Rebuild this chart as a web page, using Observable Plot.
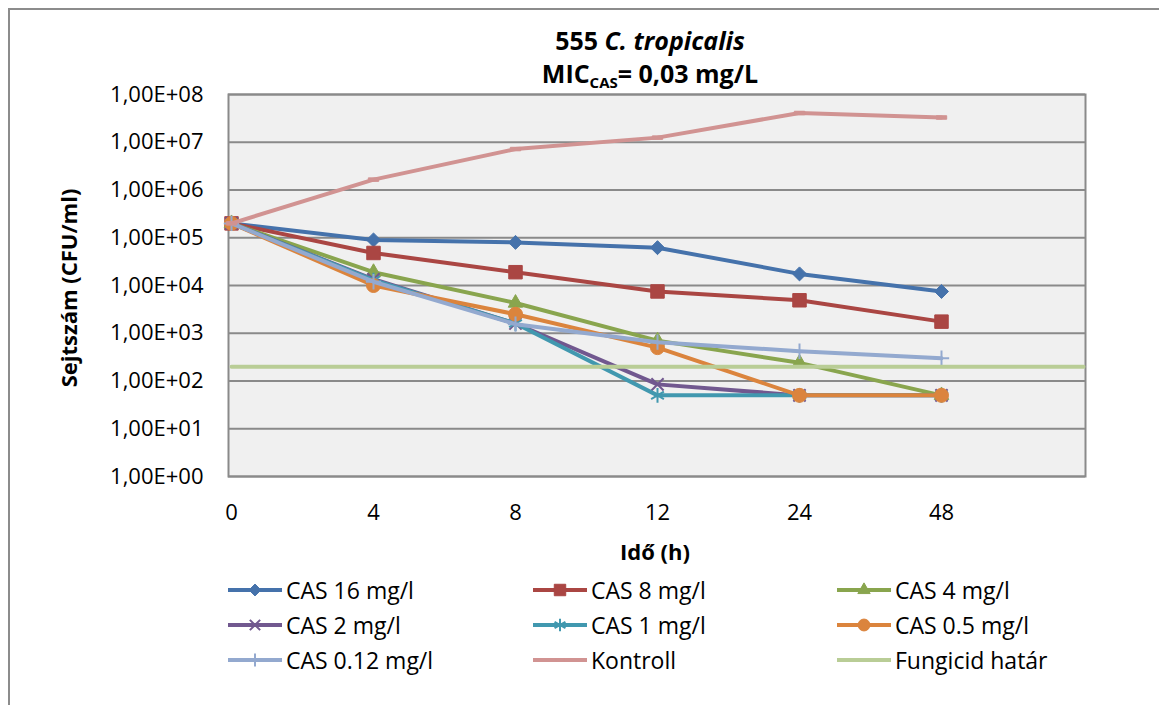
<!DOCTYPE html>
<html><head><meta charset="utf-8">
<script src="https://cdn.jsdelivr.net/npm/d3@7"></script>
<script src="https://cdn.jsdelivr.net/npm/@observablehq/plot@0.6"></script>
<style>
body{margin:0;background:#fff;font-family:"Open Sans",sans-serif;color:#000;}
#wrap{position:relative;width:1159px;height:705px;overflow:hidden;background:#fff;}
#border{position:absolute;left:8px;top:8px;width:1300px;height:900px;border:2px solid #8c8c8c;box-sizing:border-box;}
#chart{position:absolute;left:0;top:0;}
.title{position:absolute;left:0;width:1300px;text-align:center;font-weight:bold;font-size:25px;line-height:1;white-space:nowrap;}
.title sub{font-size:15px;vertical-align:-5px;line-height:0;}
#ytitle{position:absolute;left:68px;top:288px;transform:translate(-50%,-50%) rotate(-90deg);font-weight:bold;font-size:22px;white-space:nowrap;}
#xtitle{position:absolute;left:655px;top:551px;transform:translate(-50%,-50%);font-weight:bold;font-size:22px;white-space:nowrap;}
.leg{position:absolute;display:flex;align-items:center;font-size:23px;white-space:nowrap;transform:translateY(-50%);}
.leg svg{margin-right:2px;}
</style></head>
<body>
<div id="wrap">
  <div id="border"></div>
  <div id="chart"></div>
  <div class="title" id="t1" style="top:28px;"></div>
  <div class="title" id="t2" style="top:61px;"></div>
  <div id="ytitle">Sejtszám (CFU/ml)</div>
  <div id="xtitle">Idő (h)</div>
  <div id="legend"></div>
</div>
<script>
// ---- data ----
const hours = ["0", "4", "8", "12", "24", "48"];
const categories = ["0", "4", "8", "12", "24", "48", ""];
const seriesNames = ["CAS 16 mg/l", "CAS 8 mg/l", "CAS 4 mg/l", "CAS 2 mg/l", "CAS 1 mg/l", "CAS 0.5 mg/l", "CAS 0.12 mg/l", "Kontroll", "Fungicid határ"];
const cas16 = [2e5, 9e4, 8e4, 6.2e4, 1.75e4, 7.5e3];
const cas8 = [2e5, 4.8e4, 1.9e4, 7.5e3, 4.9e3, 1.75e3];
const cas4 = [2e5, 1.9e4, 4.3e3, 700, 240, 50];
const cas2 = [2e5, 1.35e4, 1.6e3, 85, 50, 50];
const cas1 = [2e5, 1.3e4, 1.6e3, 50, 50, 50];
const cas05 = [2e5, 1.0e4, 2.5e3, 500, 50, 50];
const cas012 = [2e5, 1.2e4, 1.55e3, 650, 420, 300];
const kontroll = [2e5, 1.65e6, 7.2e6, 1.25e7, 4.1e7, 3.3e7];
const fungicid = [200, 200, 200, 200, 200, 200, 200];
const yTicks = [1, 10, 100, 1e3, 1e4, 1e5, 1e6, 1e7, 1e8];

const title1 = '555 <i>C. tropicalis</i>';
const title2 = 'MIC<sub>CAS</sub>= 0,03 mg/L';

// ---- styles ----
const colors = ["#4572AB", "#AA4643", "#89A54E", "#71588F", "#4198AF", "#DB843D", "#93A9CF", "#D19392", "#B9CD96"];
const dash = {draw(ctx, size) { const s = Math.sqrt(size); ctx.rect(-s * 0.65, -s * 0.22, s * 1.3, s * 0.44); }};
const symbols = ["diamond2", "square", "triangle", "times", "asterisk", "circle", "plus", dash, null];
const radii = [6.3, 7.6, 5.4, 5.6, 7, 7, 5, 4.5, 0];
const filled = [true, true, true, false, false, true, false, true, false];

const allValues = [cas16, cas8, cas4, cas2, cas1, cas05, cas012, kontroll, fungicid];
const series = allValues.map((vals, i) => vals.map((v, j) => ({s: seriesNames[i], h: categories[j], v})));

document.getElementById("t1").innerHTML = title1;
document.getElementById("t2").innerHTML = title2;

const marks = [
  Plot.frame({fill: "#f0f0f0", stroke: null}),
  Plot.ruleY(yTicks, {stroke: "#8a8a8a", strokeWidth: 2}),
  Plot.frame({stroke: "#8a8a8a", strokeWidth: 2}),
  Plot.axisY({ticks: yTicks, tickSize: 0, tickPadding: 25, fontSize: 22,
    tickFormat: d => "1,00E+" + String(Math.round(Math.log10(d))).padStart(2, "0")}),
  Plot.axisX({ticks: hours, tickSize: 0, tickPadding: 28, fontSize: 22})
];
series.forEach((data, i) => {
  marks.push(Plot.line(data, {x: "h", y: "v", stroke: colors[i], strokeWidth: 4, strokeLinejoin: "round"}));
  if (symbols[i]) {
    marks.push(Plot.dot(data, {x: "h", y: "v", symbol: () => symbols[i], r: radii[i],
      fill: filled[i] ? colors[i] : "none", stroke: colors[i], strokeWidth: filled[i] ? 1 : 2}));
  }
});

const chart = Plot.plot({
  width: 1159, height: 705,
  marginLeft: 228, marginRight: 74, marginTop: 94, marginBottom: 229,
  x: {type: "point", domain: categories, padding: 0, label: null},
  y: {type: "log", domain: [1, 1e8], label: null},
  style: {fontFamily: "Open Sans", background: "transparent", color: "#000", overflow: "visible"},
  marks
});
document.getElementById("chart").append(chart);

// ---- legend ----
const legX = [228, 533, 837];
const legY = [590, 625, 660];
const legend = d3.select("#legend");
seriesNames.forEach((name, i) => {
  const item = legend.append("div").attr("class", "leg")
    .style("left", legX[i % 3] + "px").style("top", legY[Math.floor(i / 3)] + "px");
  const svg = item.append("svg").attr("width", 56).attr("height", 20);
  svg.append("line").attr("x1", 0).attr("x2", 54).attr("y1", 10).attr("y2", 10)
    .attr("stroke", colors[i]).attr("stroke-width", 4);
  if (symbols[i]) {
    const typ = typeof symbols[i] === "string"
      ? {diamond2: d3.symbolDiamond2, square: d3.symbolSquare, triangle: d3.symbolTriangle, times: d3.symbolTimes, asterisk: d3.symbolAsterisk, circle: d3.symbolCircle, plus: d3.symbolPlus}[symbols[i]]
      : symbols[i];
    const r = radii[i] * 0.85;
    svg.append("path").attr("transform", "translate(27,10)")
      .attr("d", d3.symbol(typ, Math.PI * r * r)())
      .attr("fill", filled[i] ? colors[i] : "none").attr("stroke", colors[i]).attr("stroke-width", filled[i] ? 1 : 2);
  }
  item.append("span").text(name);
});
</script>
</body></html>
